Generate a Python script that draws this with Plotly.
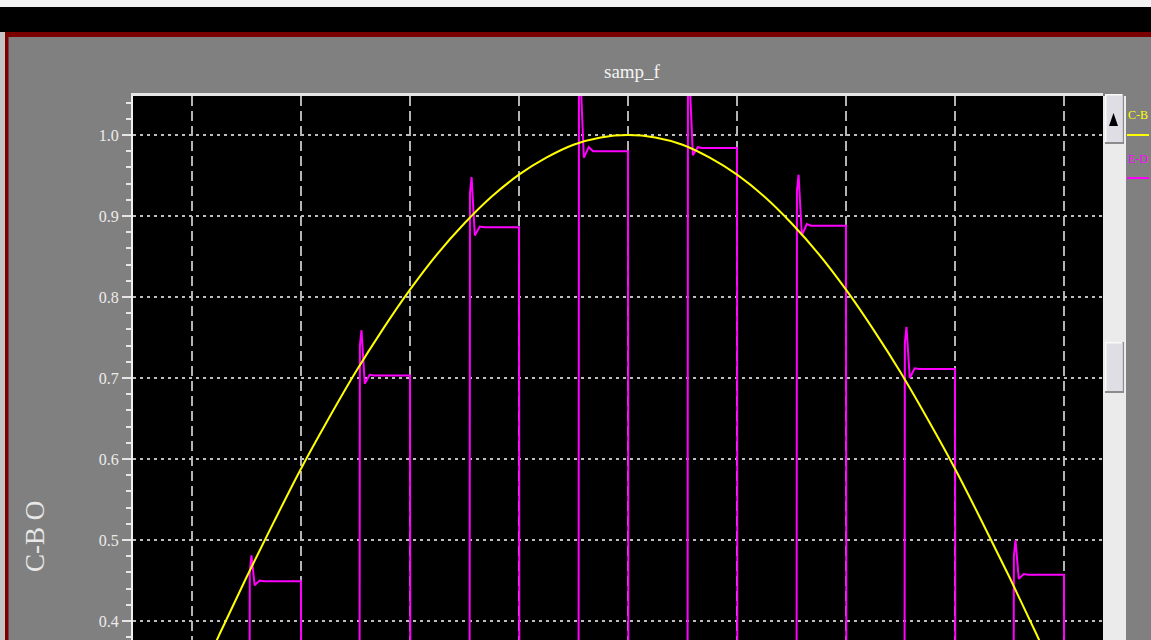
import plotly.graph_objects as go

# ---- data -------------------------------------------------------------
# time axis in ms (grid every 1 ms, 50 Hz reference wave)
ref_t = [0.75, 1.0, 1.25, 1.5, 1.75, 2.0, 2.25, 2.5, 2.75, 3.0, 3.25, 3.5, 3.75,
         4.0, 4.25, 4.5, 4.75, 5.0, 5.25, 5.5, 5.75, 6.0, 6.25, 6.5, 6.75,
         7.0, 7.25, 7.5, 7.75, 8.0, 8.25, 8.5, 8.75, 9.0, 9.25]
ref_v = [0.233, 0.309, 0.383, 0.454, 0.522, 0.588, 0.649, 0.707, 0.760, 0.809,
         0.853, 0.891, 0.924, 0.951, 0.972, 0.988, 0.997, 1.000, 0.997, 0.988,
         0.972, 0.951, 0.924, 0.891, 0.853, 0.809, 0.760, 0.707, 0.649, 0.588,
         0.522, 0.454, 0.383, 0.309, 0.233]

# sample-and-hold pulses
pulse_rise = [1.53, 2.54, 3.55, 4.55, 5.55, 6.55, 7.54, 8.54]
pulse_fall = [2.0, 3.0, 4.0, 5.0, 6.0, 7.0, 8.0, 9.0]
spike_peak = [0.481, 0.759, 0.948, 1.070, 1.070, 0.951, 0.763, 0.500]
spike_dip = [0.444, 0.693, 0.876, 0.972, 0.975, 0.876, 0.700, 0.452]
ring_val = [0.450, 0.704, 0.887, 0.985, 0.985, 0.890, 0.712, 0.458]
held_val = [0.449, 0.703, 0.886, 0.980, 0.984, 0.888, 0.711, 0.457]
low_level = 0.0

y_ticks = [0.4, 0.5, 0.6, 0.7, 0.8, 0.9, 1.0]

# ---- geometry ---------------------------------------------------------
W, H = 1151, 640
L, R, T, B = 133, 1103, 96, 640


def fx(px):
    return (px - L) / (R - L)


def fy(py):
    return (B - py) / (B - T)


# ---- build the held trace --------------------------------------------
hx, hy = [0.3], [low_level]
for r, f, pk, dp, rg, hv in zip(pulse_rise, pulse_fall, spike_peak,
                                spike_dip, ring_val, held_val):
    hx += [r - 0.005, r, r + 0.015, r + 0.045, r + 0.09, r + 0.13, f, f + 0.005]
    hy += [low_level, pk - 0.02, pk, dp, rg, hv, hv, low_level]
hx.append(9.6)
hy.append(low_level)

FONT = "Liberation Serif, Times New Roman, serif"

fig = go.Figure()
fig.add_trace(go.Scatter(x=hx, y=hy, mode="lines", name="E-D",
                         line=dict(color="#ff00ff", width=2)))
fig.add_trace(go.Scatter(x=ref_t, y=ref_v, mode="lines", name="C-B",
                         line=dict(color="#ffff00", width=2, shape="spline",
                                   smoothing=1.0)))

shapes = []
# top bar and window frame
shapes.append(dict(type="rect", xref="paper", yref="paper", x0=fx(0), x1=fx(W),
                   y0=fy(0), y1=fy(8), fillcolor="#f2f2f2", line_width=0, layer="below"))
shapes.append(dict(type="rect", xref="paper", yref="paper", x0=fx(0), x1=fx(W),
                   y0=fy(7), y1=fy(32), fillcolor="#000000", line_width=0, layer="below"))
shapes.append(dict(type="rect", xref="paper", yref="paper", x0=fx(5), x1=fx(W),
                   y0=fy(32), y1=fy(37), fillcolor="#7a0000", line_width=0, layer="below"))
shapes.append(dict(type="rect", xref="paper", yref="paper", x0=fx(0), x1=fx(5),
                   y0=fy(32), y1=fy(H), fillcolor="#c4c4c4", line_width=0, layer="below"))
shapes.append(dict(type="rect", xref="paper", yref="paper", x0=fx(5), x1=fx(8.5),
                   y0=fy(32), y1=fy(H), fillcolor="#7a0000", line_width=0, layer="below"))

# scrollbar
shapes.append(dict(type="rect", xref="paper", yref="paper", x0=fx(1103), x1=fx(1126),
                   y0=fy(96), y1=fy(H), fillcolor="#ebebeb", line_width=0))
for top, bot in [(94, 144), (342, 393)]:
    shapes.append(dict(type="rect", xref="paper", yref="paper", x0=fx(1105), x1=fx(1124),
                       y0=fy(top), y1=fy(bot), fillcolor="#8c8c8c", line_width=0))
    shapes.append(dict(type="rect", xref="paper", yref="paper", x0=fx(1105), x1=fx(1122.5),
                       y0=fy(top), y1=fy(bot - 2), fillcolor="#fafafa", line_width=0))
    shapes.append(dict(type="rect", xref="paper", yref="paper", x0=fx(1106.5), x1=fx(1122.5),
                       y0=fy(top + 1.5), y1=fy(bot - 2), fillcolor="#dedee4", line_width=0))
shapes.append(dict(type="path", xref="paper", yref="paper",
                   path=f"M{fx(1109)},{fy(126)} L{fx(1118)},{fy(126)} L{fx(1113.5)},{fy(113)} Z",
                   fillcolor="#000000", line_width=0))

# legend keys
shapes.append(dict(type="line", xref="paper", yref="paper", x0=fx(1127), x1=fx(1149),
                   y0=fy(135), y1=fy(135), line=dict(color="#ffff00", width=2)))
shapes.append(dict(type="line", xref="paper", yref="paper", x0=fx(1127), x1=fx(1149),
                   y0=fy(178), y1=fy(178), line=dict(color="#ff00ff", width=2)))

annotations = [
    dict(text="samp_f", xref="paper", yref="paper", x=fx(632), y=fy(72),
         showarrow=False, font=dict(family=FONT, size=19, color="#f4f4f4"),
         xanchor="center", yanchor="middle"),
    dict(text="C-B O", xref="paper", yref="paper", x=fx(35), y=fy(537),
         showarrow=False, textangle=-90, font=dict(family=FONT, size=27, color="#e8e8e8"),
         xanchor="center", yanchor="middle"),
    dict(text="C-B", xref="paper", yref="paper", x=fx(1137.5), y=fy(115),
         showarrow=False, font=dict(family=FONT, size=12, color="#ffff00"),
         xanchor="center", yanchor="middle"),
    dict(text="E-D", xref="paper", yref="paper", x=fx(1137.5), y=fy(159),
         showarrow=False, font=dict(family=FONT, size=12, color="#ff00ff"),
         xanchor="center", yanchor="middle"),
]

t_left = 1 + (L - 192) / 109.0
t_right = 1 + (R - 192) / 109.0
y_top = 1.0 + (135 - T) / 810.0
y_bot = 0.4 - (B - 621) / 810.0

fig.update_layout(
    width=W, height=H,
    margin=dict(l=L, r=W - R, t=T, b=0, pad=0),
    paper_bgcolor="#808080",
    plot_bgcolor="#000000",
    showlegend=False,
    shapes=shapes,
    annotations=annotations,
    xaxis=dict(range=[t_left, t_right], side="top", showticklabels=False,
               ticks="", tick0=0, dtick=1, showgrid=True, gridcolor="#b4b4b4",
               gridwidth=2, griddash="10px,5px", zeroline=False,
               showline=True, linecolor="#e6e6e6", linewidth=3),
    yaxis=dict(range=[y_bot, y_top], tickvals=y_ticks, tickformat=".1f",
               ticks="outside", ticklen=9, tickwidth=2, tickcolor="#e6e6e6",
               tickfont=dict(family=FONT, size=16, color="#ececec"),
               showgrid=True, gridcolor="#bdbdbd", gridwidth=2, griddash="3px,4px",
               zeroline=False, showline=True, linecolor="#f0f0f0", linewidth=2,
               minor=dict(dtick=0.02, tick0=0, ticks="outside", ticklen=5,
                          tickwidth=2, tickcolor="#e6e6e6", showgrid=False)),
)

fig.write_html("out.html")
